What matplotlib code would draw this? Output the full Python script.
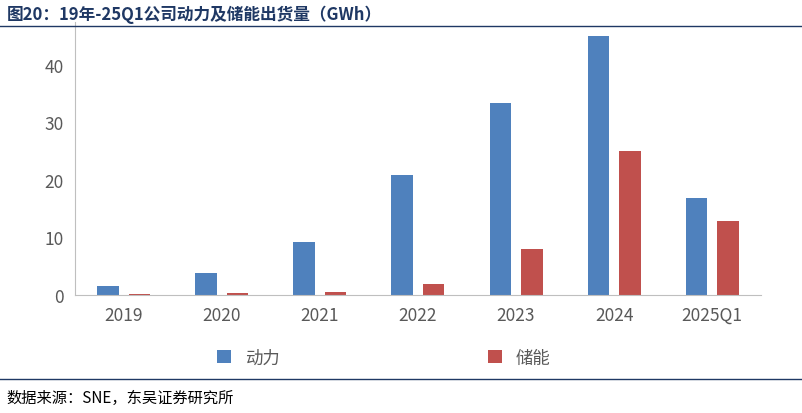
import matplotlib.pyplot as plt
import numpy as np

plt.rcParams['font.family'] = ['Noto Sans CJK SC', 'DejaVu Sans']

years = ['2019', '2020', '2021', '2022', '2023', '2024', '2025Q1']
power = [1.5, 3.9, 9.3, 20.9, 33.3, 45.0, 16.9]
storage = [0.1, 0.3, 0.6, 1.9, 8.0, 25.0, 12.8]

fig = plt.figure(figsize=(8.03, 4.14), dpi=100)
ax = fig.add_axes([0.093, 0.285, 0.855, 0.66])

x = np.arange(len(years))
w = 0.22
ax.bar(x - 0.16, power, w, color='#4F81BD', label='动力')
ax.bar(x + 0.16, storage, w, color='#C0504D', label='储能')

ax.set_xlim(-0.5, len(years) - 0.5)
ax.set_ylim(0, 47.5)
ax.set_yticks([0, 10, 20, 30, 40])
ax.set_xticks(x)
ax.set_xticklabels(years)
ax.tick_params(axis='both', labelsize=12.5, colors='#595959', length=0, pad=8)
for s in ['top', 'right']:
    ax.spines[s].set_visible(False)
for s in ['left', 'bottom']:
    ax.spines[s].set_color('#BFBFBF')

ax.legend(loc='upper center', bbox_to_anchor=(0.45, -0.14), ncol=2, frameon=False,
          fontsize=12.5, columnspacing=12, handlelength=0.8, handleheight=0.8,
          labelcolor='#595959')

fig.text(0.008, 0.965, '图20：19年-25Q1公司动力及储能出货量（GWh）', fontsize=12,
         fontweight='bold', color='#1F3864', va='center')
fig.add_artist(plt.Line2D([0, 1], [0.935, 0.935], color='#1F3864', lw=1))
fig.add_artist(plt.Line2D([0, 1], [0.082, 0.082], color='#1F3864', lw=1))
fig.text(0.008, 0.038, '数据来源：SNE，东吴证券研究所', fontsize=11, color='#000000',
         va='center')

fig.savefig('out.png', dpi=100)
